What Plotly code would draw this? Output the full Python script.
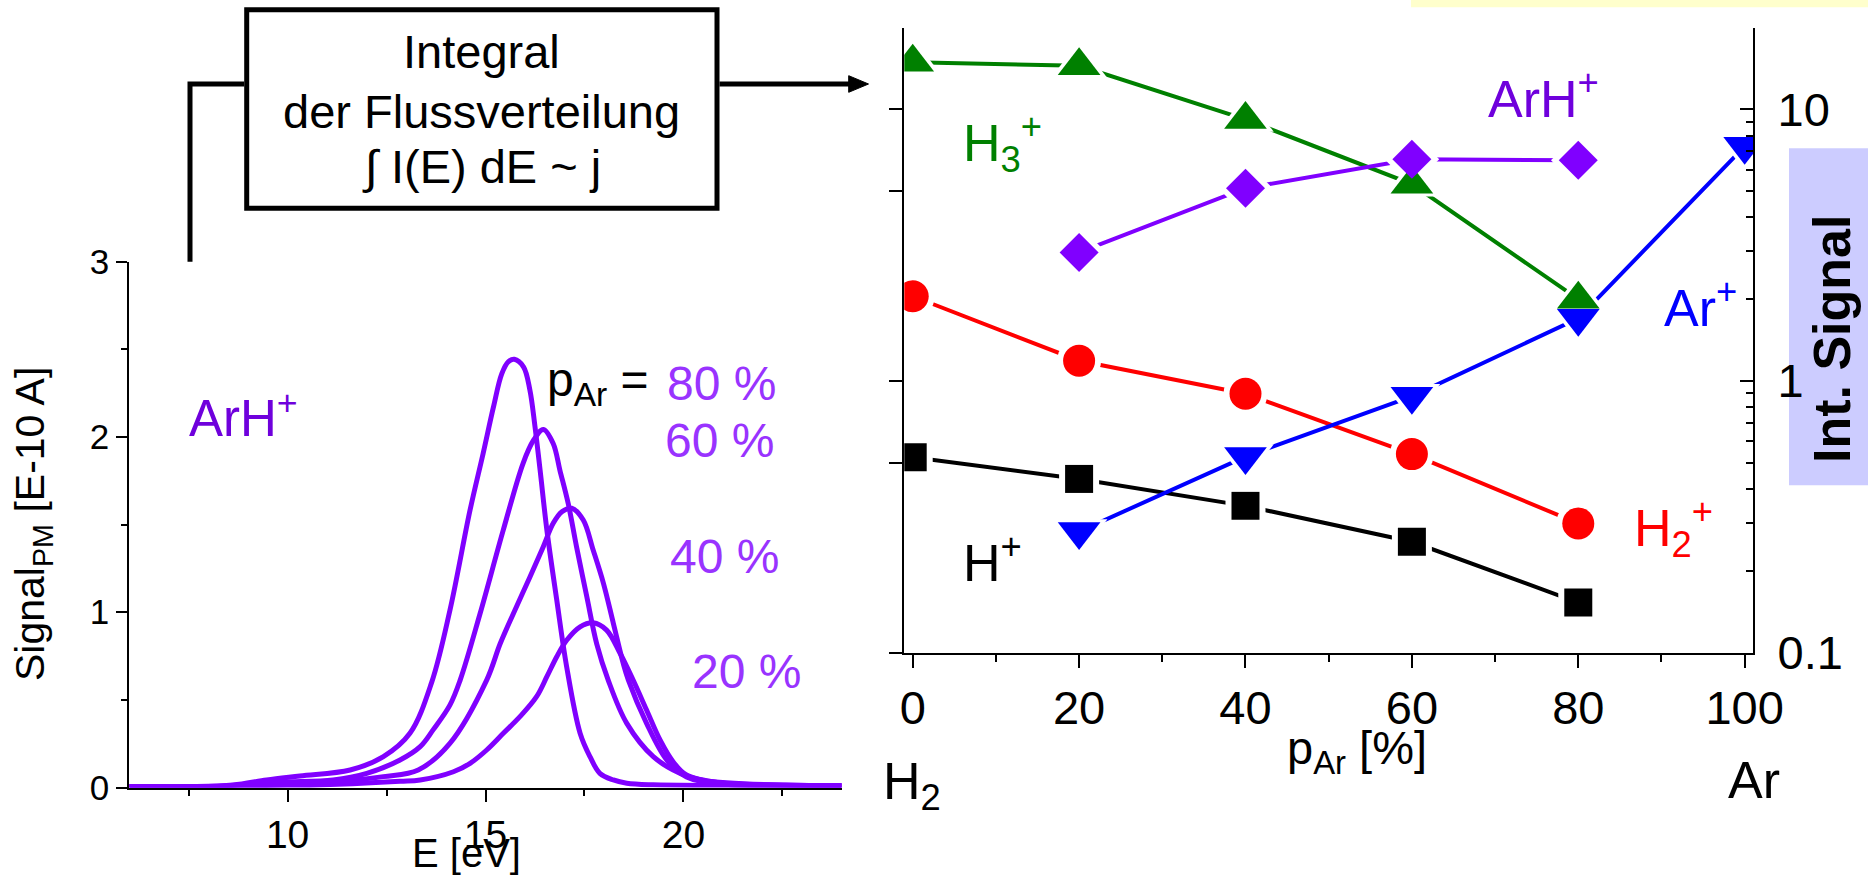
import plotly.graph_objects as go

FIG_W, FIG_H = 1868, 877
FONT = "Liberation Sans, Arial, Helvetica, sans-serif"

# ---------------- ArH+ energy distributions (E [eV], signal [1e-10 A]) ----------------
energy_80 = [6.0, 7.5, 8.62, 9.47, 10.31, 11.58, 12.42, 13.09, 13.64, 14.1, 14.61, 14.94, 15.2,
             15.41, 15.58, 15.73, 15.96, 16.12, 16.25, 16.38, 16.55, 16.8, 17.05, 17.39, 17.64,
             17.89, 18.23, 18.57, 19.24, 24.0]
signal_80 = [0.005, 0.005, 0.014, 0.043, 0.066, 0.10, 0.176, 0.309, 0.6, 1.01, 1.583, 1.906, 2.17,
             2.36, 2.43, 2.443, 2.40, 2.27, 2.06, 1.81, 1.47, 1.07, 0.69, 0.31, 0.176,
             0.081, 0.043, 0.024, 0.015, 0.01]

energy_60 = [6.0, 8.0, 9.8, 11.15, 12.0, 12.84, 13.35, 13.68, 14.1, 14.36, 14.86, 15.45, 15.95,
             16.21, 16.46, 16.71, 16.88, 17.09, 17.3, 17.56, 17.81, 18.1, 18.57, 19.24, 19.91,
             20.5, 24.0]
signal_60 = [0.005, 0.005, 0.03, 0.043, 0.081, 0.157, 0.233, 0.33, 0.47, 0.613, 0.99, 1.47, 1.85,
             1.98, 2.043, 1.963, 1.81, 1.62, 1.374, 1.088, 0.82, 0.613, 0.366, 0.176, 0.081,
             0.04, 0.01]

energy_40 = [6.0, 8.5, 11.0, 12.42, 13.3, 14.1, 15.03, 15.37, 15.7, 16.12, 16.46, 16.71, 16.93,
             17.18, 17.47, 17.72, 17.98, 18.23, 18.48, 18.61, 19.07, 19.58, 20.08, 21.0, 24.0]
signal_40 = [0.005, 0.005, 0.03, 0.062, 0.1, 0.252, 0.613, 0.82, 0.99, 1.2, 1.374, 1.507, 1.573,
             1.593, 1.526, 1.355, 1.165, 0.937, 0.708, 0.613, 0.366, 0.157, 0.06, 0.02, 0.01]

energy_20 = [6.0, 9.5, 12.84, 13.35, 14.19, 14.61, 15.03, 15.45, 15.87, 16.29, 16.55, 16.8, 17.05,
             17.39, 17.72, 18.06, 18.4, 18.73, 19.07, 19.41, 19.74, 20.08, 20.92, 22.6, 24.0]
signal_20 = [0.005, 0.005, 0.035, 0.043, 0.09, 0.138, 0.214, 0.309, 0.404, 0.518, 0.632, 0.746, 0.84,
             0.917, 0.94, 0.898, 0.766, 0.613, 0.442, 0.271, 0.147, 0.071, 0.027, 0.014, 0.01]

spectra = [(energy_80, signal_80), (energy_60, signal_60), (energy_40, signal_40), (energy_20, signal_20)]
pct_labels = ["80 %", "60 %", "40 %", "20 %"]

# ---------------- integrated ion signals vs. Ar fraction ----------------
p_ar = [0, 20, 40, 60, 80, 100]
h_plus = [0.524, 0.436, 0.347, 0.256, 0.153, None]
h2_plus = [2.05, 1.187, 0.897, 0.538, 0.299, None]
h3_plus = [14.9, 14.45, 9.17, 5.3, 2.0, None]
arh_plus = [None, 2.97, 5.12, 6.54, 6.49, None]
ar_plus = [None, 0.279, 0.527, 0.878, 1.70, 7.3]

VIOLET = "#8000FF"
ARH_TEXT = "#6F00DC"
PCT_TEXT = "#9933FF"
GREEN = "#008000"

series = [
    (h_plus, "black", "square", 28),
    (h2_plus, "#FF0000", "circle", 32),
    (h3_plus, GREEN, "triangle-up", 37),
    (arh_plus, VIOLET, "diamond", 30),
    (ar_plus, "#0000FF", "triangle-down", 37),
]


def fx(px):
    return px / FIG_W


def fy(py):
    return 1 - py / FIG_H


fig = go.Figure()

# energy distributions (left panel)
for e, s in spectra:
    fig.add_trace(go.Scatter(x=e, y=s, mode="lines", xaxis="x", yaxis="y",
                             line=dict(color=VIOLET, width=5, shape="spline", smoothing=1.0),
                             hoverinfo="skip"))

# integrated signals (right panel): lines, white gap halos, then symbols
for vals, col, sym, size in series:
    fig.add_trace(go.Scatter(x=p_ar, y=vals, mode="lines", xaxis="x2", yaxis="y2",
                             line=dict(color=col, width=4)))
for vals, col, sym, size in series:
    fig.add_trace(go.Scatter(x=p_ar, y=vals, mode="markers", xaxis="x2", yaxis="y4",
                             marker=dict(symbol=sym, size=size + 12, color="white", line=dict(width=0))))
for vals, col, sym, size in series:
    fig.add_trace(go.Scatter(x=p_ar, y=vals, mode="markers", xaxis="x2", yaxis="y5",
                             marker=dict(symbol=sym, size=size, color=col, line=dict(width=0))))

axis_common = dict(showline=True, linecolor="black", showgrid=False, zeroline=False,
                   tickcolor="black", ticks="outside", automargin=False)

left_x_dom = [fx(129.3), fx(841.7)]
left_y_dom = [fy(787.5), fy(261.7)]
right_x_dom = [fx(904.3), fx(1753)]
right_y_dom = [fy(652.7), fy(27.7)]
log_range = [-1, 1.3]

log_minor = [0.2, 0.3, 0.4, 0.5, 0.6, 0.7, 0.8, 0.9, 2, 3, 4, 5, 6, 7, 8, 9]
NBSP = "\u00a0"

fig.update_layout(
    width=FIG_W, height=FIG_H, autosize=False,
    margin=dict(l=0, r=0, t=0, b=0, pad=0, autoexpand=False),
    paper_bgcolor="white", plot_bgcolor="white",
    showlegend=False,
    font=dict(family=FONT, color="black"),
    # left panel
    xaxis=dict(axis_common, domain=left_x_dom, range=[6, 24], anchor="y", layer="below traces",
               tickmode="linear", tick0=0, dtick=5, ticklen=12, tickwidth=2, linewidth=2,
               minor=dict(tickmode="linear", tick0=0, dtick=2.5, ticklen=6, tickwidth=2, ticks="outside"),
               tickfont=dict(size=39, family=FONT)),
    xaxis3=dict(axis_common, domain=left_x_dom, range=[6, 24], anchor="y", overlaying="x", side="top",
                ticks="inside", tickmode="linear", tick0=0, dtick=2, ticklen=11, tickwidth=2, linewidth=2,
                minor=dict(tickmode="linear", tick0=0, dtick=1, ticklen=5, tickwidth=2, ticks="inside"),
                showticklabels=False),
    yaxis=dict(axis_common, domain=left_y_dom, range=[0, 3], anchor="x",
               tickmode="linear", tick0=0, dtick=1, ticklen=11, tickwidth=2, linewidth=2,
               minor=dict(tickmode="linear", tick0=0, dtick=0.5, ticklen=6, tickwidth=2, ticks="outside"),
               tickfont=dict(size=35, family=FONT)),
    yaxis3=dict(axis_common, domain=left_y_dom, range=[0, 3], anchor="x", overlaying="y", side="right",
                ticks="inside", tickmode="linear", tick0=0, dtick=1, ticklen=12, tickwidth=2, linewidth=2,
                minor=dict(tickmode="linear", tick0=0, dtick=0.5, ticklen=6, tickwidth=2, ticks="inside"),
                showticklabels=False),
    # right panel
    xaxis2=dict(axis_common, domain=right_x_dom, range=[-1.01, 101], anchor="y2",
                tickmode="array", tickvals=[0, 20, 40, 60, 80, 100], ticklen=13, tickwidth=2.3, linewidth=2.3,
                minor=dict(tickmode="array", tickvals=[10, 30, 50, 70, 90], ticklen=7, tickwidth=2.3,
                           ticks="outside"),
                tickfont=dict(size=47, family=FONT)),
    xaxis4=dict(axis_common, domain=right_x_dom, range=[-1.01, 101], anchor="y2", overlaying="x2",
                side="top", ticks="inside",
                tickmode="array", tickvals=[0, 20, 40, 60, 80, 100], ticklen=14, tickwidth=2.3, linewidth=2.3,
                minor=dict(tickmode="array", tickvals=[10, 30, 50, 70, 90], ticklen=7, tickwidth=2.3,
                           ticks="inside"),
                showticklabels=False),
    # labelled log axis on the right side
    yaxis2=dict(axis_common, domain=right_y_dom, type="log", range=log_range, anchor="x2", side="right",
                ticks="inside", tickmode="array", tickvals=[0.1, 1, 10],
                ticktext=[NBSP + "0.1", NBSP + "1", NBSP + "10"],
                ticklen=13, tickwidth=2.3, linewidth=2.3,
                tickfont=dict(size=47, family=FONT)),
    # left-side ticks of the log axis
    yaxis4=dict(axis_common, domain=right_y_dom, type="log", range=log_range, anchor="x2",
                overlaying="y2", side="left", ticks="outside",
                tickmode="array", tickvals=[0.1, 0.5, 1, 5, 10], ticklen=13, tickwidth=2.3, linewidth=2.3,
                showticklabels=False),
    # minor ticks on the right side
    yaxis5=dict(axis_common, domain=right_y_dom, type="log", range=log_range, anchor="x2",
                overlaying="y2", side="right", ticks="inside", showline=False,
                tickmode="array", tickvals=log_minor, ticklen=7, tickwidth=2.3,
                showticklabels=False),
)

# ---------------- shapes: flow-chart box, connectors, background panels ----------------
shapes = []
shapes.append(dict(type="rect", xref="paper", yref="paper", layer="below",
                   x0=fx(1411), x1=1, y0=fy(7.3), y1=1,
                   fillcolor="#FFFFCC", line=dict(width=0)))
shapes.append(dict(type="rect", xref="paper", yref="paper", layer="below",
                   x0=fx(1789), x1=1, y0=fy(485.3), y1=fy(148.3),
                   fillcolor="#CCCCFF", line=dict(width=0)))
shapes.append(dict(type="rect", xref="paper", yref="paper",
                   x0=fx(246.7), x1=fx(717), y0=fy(208.2), y1=fy(9.8),
                   line=dict(color="black", width=5), fillcolor="rgba(0,0,0,0)"))
shapes.append(dict(type="path", xref="paper", yref="paper",
                   path=f"M {fx(190)},{fy(261.7)} L {fx(190)},{fy(84)} L {fx(244.2)},{fy(84)}",
                   line=dict(color="black", width=5)))
shapes.append(dict(type="line", xref="paper", yref="paper",
                   x0=fx(719.5), x1=fx(852), y0=fy(84), y1=fy(84),
                   line=dict(color="black", width=5)))
shapes.append(dict(type="path", xref="paper", yref="paper",
                   path=f"M {fx(848.7)},{fy(75.7)} L {fx(868.5)},{fy(84)} L {fx(848.7)},{fy(92.3)} Z",
                   fillcolor="black", line=dict(color="black", width=1)))
fig.update_layout(shapes=shapes)


# ---------------- text labels ----------------
def label(text, x, y, size, color="black", xanchor="left", yanchor="middle", **kw):
    return dict(text=text, x=fx(x), y=fy(y), xref="paper", yref="paper", showarrow=False,
                xanchor=xanchor, yanchor=yanchor,
                font=dict(family=FONT, size=size, color=color), **kw)


ann = [
    # flow-chart box
    label("Integral", 481.9, 52, 47, xanchor="center"),
    label("der Flussverteilung", 481.9, 111, 47, xanchor="center"),
    label("\u222B I(E) dE ~ j", 481.9, 166.7, 47, xanchor="center"),
    # left panel
    label("ArH<sup>+</sup>", 187, 415, 51, ARH_TEXT),
    label("p<sub>Ar</sub> =", 545, 383, 48),
    label(pct_labels[0], 665, 383, 48, PCT_TEXT),
    label(pct_labels[1], 663, 440.5, 48, PCT_TEXT),
    label(pct_labels[2], 668, 556, 48, PCT_TEXT),
    label(pct_labels[3], 690, 671, 48, PCT_TEXT),
    label("E [eV]", 410, 852.5, 40),
    label("Signal<sub>PM</sub> [E-10 A]", 33, 524, 41, xanchor="center", textangle=-90),
    # right panel
    label("H<sub>3</sub><sup>+</sup>", 961, 143, 52, GREEN),
    label("ArH<sup>+</sup>", 1486, 95, 52, ARH_TEXT),
    label("Ar<sup>+</sup>", 1662, 304, 52, "#0000FF"),
    label("H<sub>2</sub><sup>+</sup>", 1632, 527.5, 52, "#FF0000"),
    label("H<sup>+</sup>", 961, 559, 52),
    label("H<sub>2</sub>", 881, 784.5, 52),
    label("Ar", 1726, 779.5, 52),
    label("p<sub>Ar</sub> [%]", 1285, 751, 47),
    label("<b>Int. Signal</b>", 1832, 339, 52, xanchor="center", textangle=-90),
]
fig.update_layout(annotations=ann)

fig.write_html("out.html")
